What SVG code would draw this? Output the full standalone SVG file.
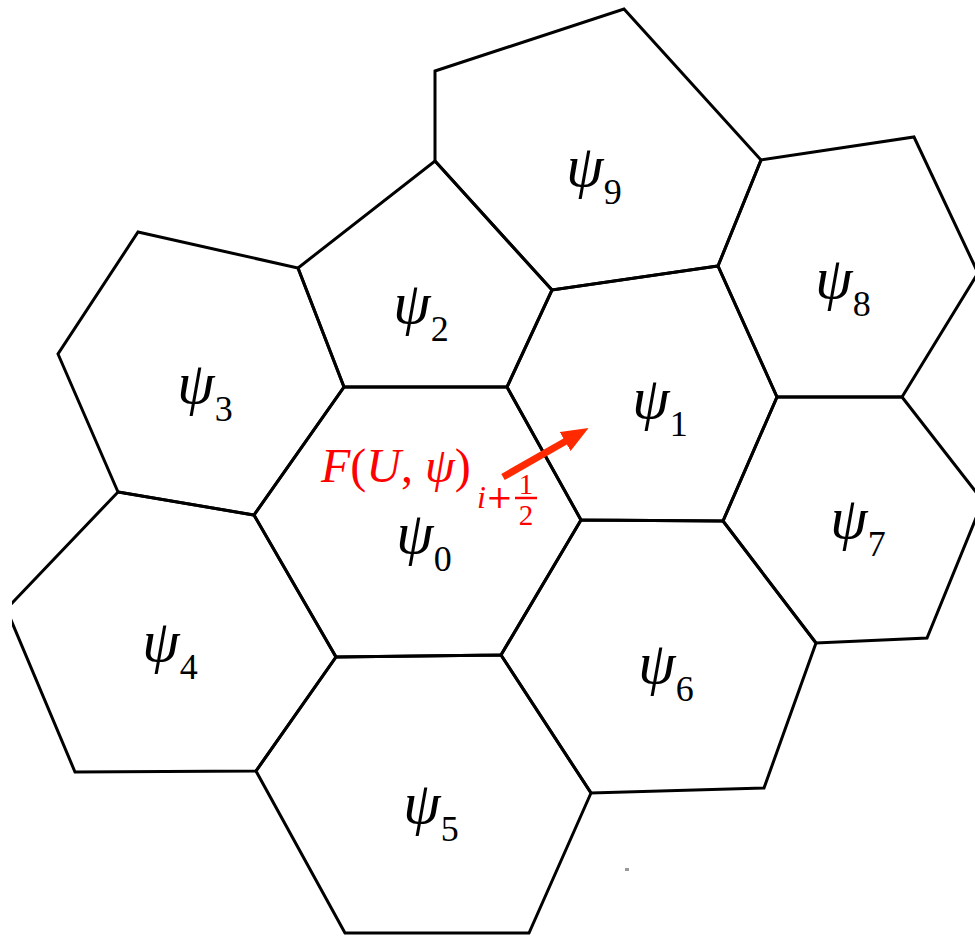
<svg xmlns="http://www.w3.org/2000/svg" width="975" height="936" viewBox="0 0 975 936">
<style>
.cell{fill:none;stroke:#000;stroke-width:3;stroke-linejoin:miter}
.lab{font-family:"Liberation Serif","Times New Roman",serif;font-size:60px;fill:#000;text-anchor:middle}
.psi{font-style:italic}
.sub{font-size:36px;font-style:normal}
.red{font-family:"Liberation Serif","Times New Roman",serif;fill:#ff0000}
.fl{font-size:48px}
.fs{font-size:32px}
.fd{font-size:29px;text-anchor:middle}
</style>
<defs>
<clipPath id="leftclip"><rect x="12" y="0" width="963" height="936"/></clipPath>
<marker id="ah" markerUnits="userSpaceOnUse" markerWidth="27" markerHeight="22" refX="1" refY="11" orient="auto"><path d="M0,0 L27,11 L0,22 z" fill="#ff2a00"/></marker>
</defs>
<rect width="975" height="936" fill="#fff"/>
<g id="psi9"><polygon class="cell" points="435,71 624,9 761,160 718,266 552,290 435,161"/><text class="lab" x="594" y="186"><tspan class="psi">ψ</tspan><tspan class="sub" dy="18">9</tspan></text></g>
<g id="psi8"><polygon class="cell" points="761,160 914,137 978,273 902,397 777,397 718,266"/><text class="lab" x="843" y="298"><tspan class="psi">ψ</tspan><tspan class="sub" dy="18">8</tspan></text></g>
<g id="psi2"><polygon class="cell" points="435,161 552,290 507,387 344,387 298,268"/><text class="lab" x="421" y="323"><tspan class="psi">ψ</tspan><tspan class="sub" dy="18">2</tspan></text></g>
<g id="psi3"><polygon class="cell" points="138,232 298,268 344,387 254,515 118,492 58,354"/><text class="lab" x="205" y="403"><tspan class="psi">ψ</tspan><tspan class="sub" dy="18">3</tspan></text></g>
<g id="psi1"><polygon class="cell" points="552,290 718,266 777,397 723,521 581,520 507,387"/><text class="lab" x="660" y="418"><tspan class="psi">ψ</tspan><tspan class="sub" dy="18">1</tspan></text></g>
<g id="psi0"><polygon class="cell" points="344,387 507,387 581,520 501,655 336,657 254,515"/><text class="lab" x="424" y="553"><tspan class="psi">ψ</tspan><tspan class="sub" dy="18">0</tspan></text></g>
<g id="psi7"><polygon class="cell" points="902,397 983,501 927,638 816,643 723,521 777,397"/><text class="lab" x="858" y="538"><tspan class="psi">ψ</tspan><tspan class="sub" dy="18">7</tspan></text></g>
<g id="psi4"><polygon class="cell" clip-path="url(#leftclip)" points="118,492 254,515 336,657 256,771 75,772 6.4,609"/><text class="lab" x="170" y="661"><tspan class="psi">ψ</tspan><tspan class="sub" dy="18">4</tspan></text></g>
<g id="psi6"><polygon class="cell" points="581,520 723,521 816,643 764,788 591,793 501,655"/><text class="lab" x="666" y="683"><tspan class="psi">ψ</tspan><tspan class="sub" dy="18">6</tspan></text></g>
<g id="psi5"><polygon class="cell" points="336,657 501,655 591,793 529,933 345,933 256,771"/><text class="lab" x="431" y="823"><tspan class="psi">ψ</tspan><tspan class="sub" dy="18">5</tspan></text></g>
<g id="connectors">
<line x1="503" y1="477" x2="566" y2="441" stroke="#ff2a00" stroke-width="7" marker-end="url(#ah)"/>
</g>
<g id="flux-label">
<text class="red fl" x="321" y="482"><tspan font-style="italic">F</tspan>(<tspan font-style="italic">U</tspan>, <tspan font-style="italic">ψ</tspan>)</text>
<text class="red fs" x="477" y="508"><tspan font-style="italic">i</tspan><tspan font-family="DejaVu Serif, serif">+</tspan></text>
<text class="red fd" x="526" y="494">1</text>
<line x1="515" y1="498" x2="537" y2="498" stroke="#ff0000" stroke-width="2.5"/>
<text class="red fd" x="526" y="525">2</text>
</g>
<rect x="625" y="868" width="4" height="3" fill="#999"/>
</svg>
